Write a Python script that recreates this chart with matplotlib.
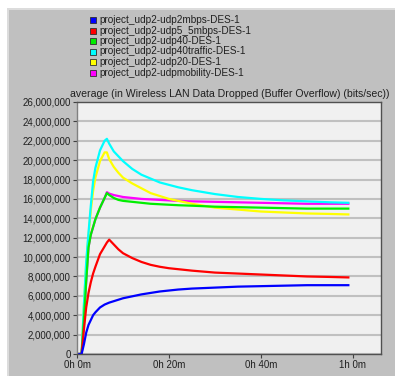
import matplotlib
matplotlib.use("Agg")
import matplotlib.pyplot as plt
from matplotlib.patches import Rectangle
from matplotlib.ticker import FuncFormatter

plt.rcParams['font.family'] = ['Liberation Sans', 'DejaVu Sans']

# time in minutes
t = [0, 1, 1.5, 2, 2.5, 3, 3.5, 4, 5, 6, 6.5, 7, 8, 9, 10, 12, 14, 16, 18,
     20, 22, 25, 30, 35, 40, 45, 50, 55, 59]

# values in millions of bits/sec
udp2mbps = [0, 0, 1.0, 2.2, 3.0, 3.5, 4.0, 4.3, 4.8, 5.1, 5.2, 5.3, 5.45, 5.6,
            5.75, 5.95, 6.15, 6.3, 6.45, 6.55, 6.65, 6.75, 6.85, 6.95, 7.0,
            7.05, 7.1, 7.1, 7.1]
udp5_5mbps = [0, 0, 2.5, 4.8, 6.3, 7.4, 8.3, 9.0, 10.3, 11.1, 11.5, 11.8, 11.3,
              10.8, 10.4, 9.9, 9.5, 9.2, 9.0, 8.85, 8.75, 8.6, 8.4, 8.3, 8.2,
              8.1, 8.0, 7.95, 7.9]
udp40 = [0, 0, 3.5, 7.5, 11.0, 12.3, 13.1, 13.9, 15.1, 16.1, 16.6, 16.4, 16.1,
         15.9, 15.8, 15.7, 15.6, 15.5, 15.45, 15.4, 15.35, 15.3, 15.2, 15.15,
         15.1, 15.05, 15.0, 15.0, 15.0]
udp40traffic = [0, 0, 5.0, 9.5, 12.5, 15.3, 17.8, 19.2, 21.0, 22.0, 22.2, 21.7,
                20.9, 20.4, 19.9, 19.1, 18.5, 18.1, 17.7, 17.45, 17.2, 16.9,
                16.5, 16.2, 16.0, 15.85, 15.75, 15.65, 15.6]
udp20 = [0, 0, 5.0, 9.3, 12.2, 14.8, 16.8, 18.2, 19.9, 20.8, 20.8, 20.1, 19.3,
         18.7, 18.2, 17.6, 17.1, 16.6, 16.3, 16.0, 15.8, 15.5, 15.1, 14.9,
         14.7, 14.6, 14.5, 14.45, 14.4]
udpmobility = [0, 0, 3.5, 7.5, 11.0, 12.3, 13.1, 13.9, 15.1, 16.1, 16.7, 16.55,
               16.4, 16.3, 16.2, 16.1, 16.0, 15.95, 15.9, 15.85, 15.8, 15.75,
               15.7, 15.65, 15.6, 15.55, 15.5, 15.5, 15.5]

names = ["project_udp2-udp2mbps-DES-1", "project_udp2-udp5_5mbps-DES-1",
         "project_udp2-udp40-DES-1", "project_udp2-udp40traffic-DES-1",
         "project_udp2-udp20-DES-1", "project_udp2-udpmobility-DES-1"]
series = [udp2mbps, udp5_5mbps, udp40, udp40traffic, udp20, udpmobility]
colors = ["#0000ff", "#ff0000", "#00ee00", "#00ffff", "#ffff00", "#ff00ff"]
draw_order = [5, 4, 3, 2, 1, 0]

xticks = [0, 20, 40, 60]
xlabels = ["0h 0m", "0h 20m", "0h 40m", "1h 0m"]
title = "average (in Wireless LAN Data Dropped (Buffer Overflow) (bits/sec))"

W, H = 395, 376
fig = plt.figure(figsize=(W / 100, H / 100), dpi=100)
fig.patch.set_facecolor("white")

# gray panel
fig.patches.append(Rectangle((7 / W, 0), 1, (H - 9) / H, transform=fig.transFigure,
                             facecolor="#c0c0c0", edgecolor="none", zorder=-3))
fig.patches.append(Rectangle((7 / W, (H - 10) / H), 1, 1.5 / H, transform=fig.transFigure,
                             facecolor="#dcdcdc", edgecolor="none", zorder=-2))
fig.patches.append(Rectangle((7 / W, 0), 1.5 / W, (H - 9) / H, transform=fig.transFigure,
                             facecolor="#dcdcdc", edgecolor="none", zorder=-2))

left, right, top, bottom = 77, 381, 102, 354
ax = fig.add_axes([left / W, (H - bottom) / H, (right - left) / W, (bottom - top) / H])
ax.set_zorder(1)
ax.set_facecolor("#f0f0f0")

for i in draw_order:
    ax.plot(t, [v * 1e6 for v in series[i]], color=colors[i], lw=1.6,
            solid_joinstyle="round")

ax.set_xlim(0, 66.1)
ax.set_ylim(0, 26e6)
ax.set_yticks([i * 2e6 for i in range(14)])
ax.yaxis.set_major_formatter(FuncFormatter(lambda v, p: f"{int(v):,}"))
ax.set_xticks(xticks)
ax.set_xticklabels(xlabels)
ax.tick_params(labelsize=7, length=3, width=0.8, color="#404040", pad=1.5,
               labelcolor="#202020")
ax.yaxis.grid(True, color="#c0c0c0", lw=1.5)
ax.set_axisbelow(True)
for s in ax.spines.values():
    s.set_color("#505050")
    s.set_linewidth(1.0)
ax.spines["left"].set_color("#808080")

fig.text(70 / W, (H - 99) / H, title, fontsize=7.55, color="#202020",
         ha="left", va="bottom", zorder=3)

# legend
for k, (nm, c) in enumerate(zip(names, colors)):
    yc = 20 + k * 10.5
    fig.patches.append(Rectangle((90 / W, (H - yc - 3) / H), 6 / W, 6 / H,
                                 transform=fig.transFigure, facecolor=c,
                                 edgecolor="#303030", lw=0.6, zorder=2))
    fig.text(99 / W, (H - yc) / H, nm, fontsize=7.2, color="#202020",
             ha="left", va="center")

fig.savefig("out.png", dpi=100)
